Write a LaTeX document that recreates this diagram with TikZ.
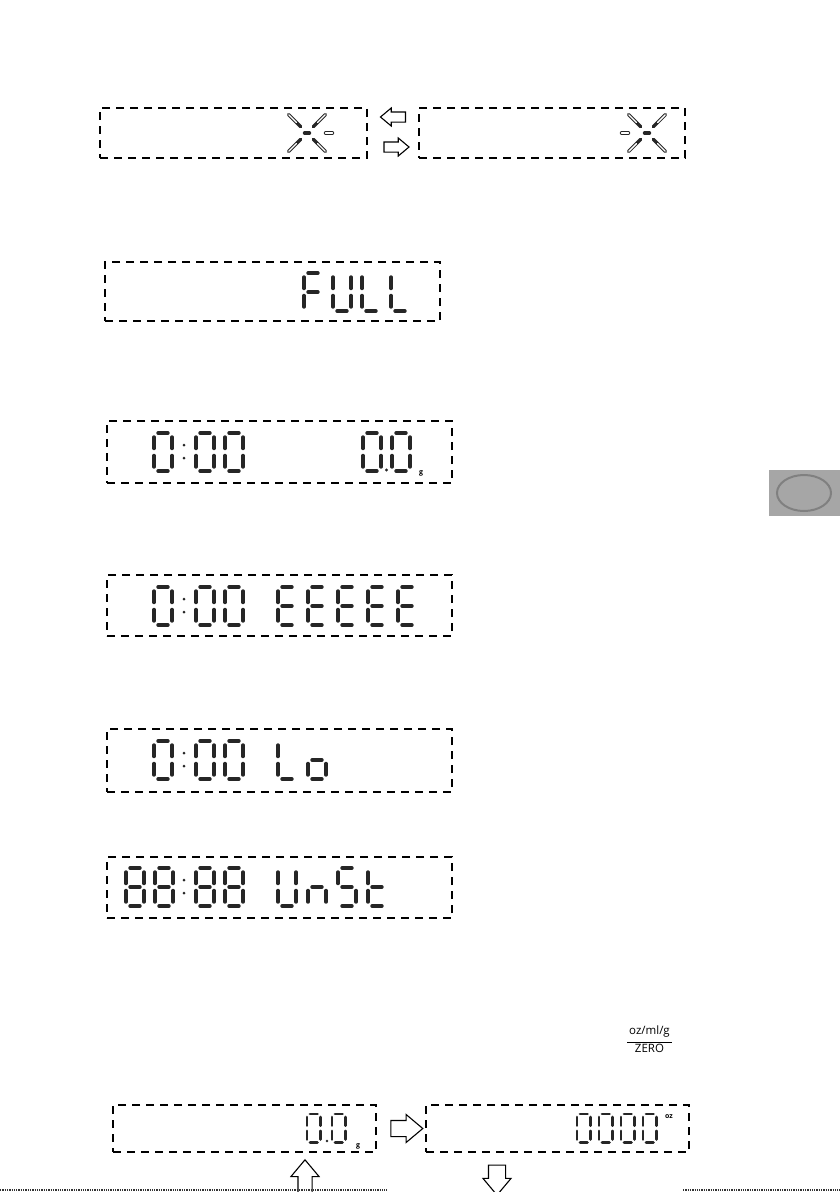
\documentclass[tikz,border=0pt]{standalone}
\usepackage{fontspec}
\setsansfont{Open Sans}
\usetikzlibrary{shapes.arrows,positioning}
\newcommand{\lcdseg}[1]{%
  \if a#1\draw[segbar] (4,0) -- (14,0);\fi
  \if b#1\draw[segbar] (18,4) -- (18,15.5);\fi
  \if c#1\draw[segbar] (18,22.5) -- (18,34);\fi
  \if d#1\draw[segbar] (4,38) -- (14,38);\fi
  \if e#1\draw[segbar] (0,22.5) -- (0,34);\fi
  \if f#1\draw[segbar] (0,4) -- (0,15.5);\fi
  \if g#1\draw[segbar] (4,19) -- (14,19);\fi}
\newcommand{\lcdsegs}[1]{\foreach \s in {#1}{\lcdseg{\s}}}
\tikzset{
    lcdbox/.style={draw, rectangle, dash pattern=on 8pt off 6pt, line width=1.5pt, inner sep=0pt},
    segbar/.style={line width=3.4pt, line cap=round, black!85},
    raybar/.style={line width=3.4pt, line cap=round, black!85},
    rayhole/.style={line width=1.4pt, line cap=round, white},
    blockarrow/.style={single arrow, draw, line width=1.1pt, fill=white, single arrow tip angle=80},
    unitmark/.style={font=\sffamily\bfseries\fontsize{7}{7}\selectfont, inner sep=0pt},
    keylabel/.style={font=\sffamily\fontsize{11.5}{12}\selectfont, inner sep=0pt},
    cutline/.style={densely dotted, line width=1.3pt, black!80},
    pics/lcd0/.style={code={\lcdsegs{a,b,c,d,e,f}}},
    pics/lcd8/.style={code={\lcdsegs{a,b,c,d,e,f,g}}},
    pics/lcdF/.style={code={\lcdsegs{a,e,f,g}}},
    pics/lcdU/.style={code={\lcdsegs{b,c,d,e,f}}},
    pics/lcdL/.style={code={\lcdsegs{d,e,f}}},
    pics/lcdE/.style={code={\lcdsegs{a,d,e,f,g}}},
    pics/lcdo/.style={code={\lcdsegs{c,d,e,g}}},
    pics/lcdn/.style={code={\lcdsegs{c,e,g}}},
    pics/lcdS/.style={code={\lcdsegs{a,c,d,f,g}}},
    pics/lcdt/.style={code={\lcdsegs{d,e,f,g}}},
    pics/blink/.style={code={
        \foreach \a in {45,135,225,315} {
            \draw[raybar] (\a:9) -- (\a:26);
            \draw[rayhole] (\a:15) -- (\a:25.5);
        }
        \draw[segbar] (-2.5,0) -- (2.5,0);
        \draw[raybar] ({#1*18.5},0) -- ({#1*25.5},0);
        \draw[rayhole] ({#1*18.5},0) -- ({#1*25.5},0);
    }}
}

\begin{document}
\begin{tikzpicture}[x=1pt, y=-1pt]
\useasboundingbox (0,0) rectangle (840,1192);

\node[lcdbox, minimum width=267pt, minimum height=50pt] (blinkA) at (233.5,133) {};
\node[lcdbox, minimum width=266pt, minimum height=50pt] (blinkB) at (552,133) {};
\node[lcdbox, minimum width=335pt, minimum height=59pt] (fullbox) at (272.5,291.5) {};
\node[lcdbox, minimum width=345pt, minimum height=62pt] (readybox) at (279.5,452) {};
\node[lcdbox, minimum width=345pt, minimum height=61pt] (errbox) at (279.5,605.5) {};
\node[lcdbox, minimum width=345pt, minimum height=63pt] (lowbox) at (279.5,760.5) {};
\node[lcdbox, minimum width=345pt, minimum height=61pt] (unstbox) at (279.5,887.5) {};
\node[lcdbox, minimum width=263pt, minimum height=47pt] (gbox) at (244.5,1128.5) {};
\node[lcdbox, minimum width=263pt, minimum height=47pt] (ozbox) at (557.5,1128.5) {};

\node[blockarrow, inner sep=4.5pt, minimum height=25pt, single arrow head extend=4pt, shape border rotate=180] (toleft) at (396,117) {};
\node[blockarrow, inner sep=4.5pt, minimum height=25pt, single arrow head extend=4pt] (toright) at (393.5,147) {};
\node[blockarrow, inner sep=7.5pt, minimum height=32pt, single arrow head extend=6pt] (unitarrow) at (402,1128.5) {};
\node[blockarrow, inner sep=6.5pt, minimum height=40pt, single arrow head extend=7pt, shape border rotate=90] (uparrow) at (305,1184) {};
\node[blockarrow, inner sep=8pt, minimum height=30pt, single arrow head extend=5.5pt, shape border rotate=270] (downarrow) at (497,1175) {};

\pic at (307,133) {blink=1};
\pic at (647,133) {blink=-1};

\foreach \x/\c in {304/F,333/U,362/L,391/L}
    \pic at (\x,273) {lcd\c};

\foreach \x/\c in {154/0,196/0,225/0,363/0,392/0}
    \pic at (\x,433) {lcd\c};
\fill[black!85] (184,445) circle (1.5pt) (184,458) circle (1.5pt) (386.5,470) circle (1.7pt);
\node[unitmark] (gram) at (421,473) {g};

\foreach \x/\c in {154/0,196/0,225/0,278/E,308/E,338/E,368/E,398/E}
    \pic at (\x,587) {lcd\c};
\fill[black!85] (184,599) circle (1.5pt) (184,612) circle (1.5pt);

\foreach \x/\c in {154/0,196/0,225/0,278/L,308/o}
    \pic at (\x,741) {lcd\c};
\fill[black!85] (184,753) circle (1.5pt) (184,766) circle (1.5pt);

\foreach \x/\c in {126/8,155/8,196/8,225/8,278/U,308/n,338/S,368/t}
    \pic at (\x,868) {lcd\c};
\fill[black!85] (184,880) circle (1.5pt) (184,893) circle (1.5pt);

\begin{scope}[segbar/.append style={line width=2.7pt}]
\foreach \x in {307,332,577,599,621,643}
    \pic[scale=0.75] at (\x,1114) {lcd0};
\end{scope}
\fill[black!85] (327,1141) circle (1.4pt);
\node[unitmark] (gramB) at (358,1146) {g};
\node[unitmark] (ounce) at (669,1117) {oz};

\node[keylabel] (unitkey) at (649.5,1031) {oz/ml/g};
\node[keylabel, below=7pt of unitkey] (zerokey) {ZERO};
\draw[line width=0.8pt] (627,1042) -- (672,1042);

\fill[black!35] (769,470) rectangle (840,516);
\draw[black!50, line width=2pt] (804,493) ellipse [x radius=27pt, y radius=18pt];

\draw[cutline] (0,1190) -- (387,1190);
\draw[cutline] (683,1190) -- (840,1190);
\end{tikzpicture}
\end{document}
